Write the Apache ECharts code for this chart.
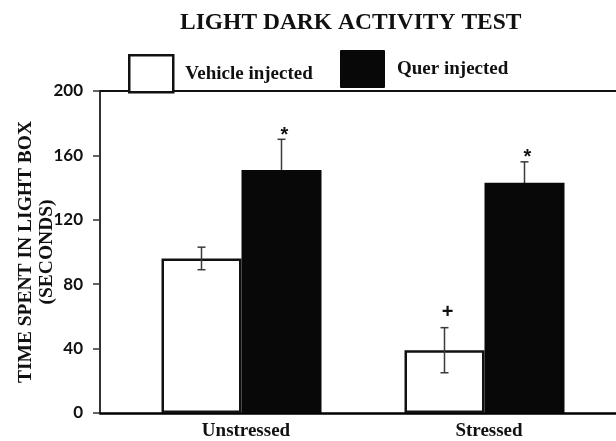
<!DOCTYPE html>
<html>
<head>
<meta charset="utf-8">
<title>Light dark activity test</title>
<script src="https://cdn.jsdelivr.net/npm/echarts@6/dist/echarts.min.js"></script>
<style>
  html, body { margin: 0; padding: 0; background: #fff; }
  #chart { width: 616px; height: 441px; }
</style>
</head>
<body>
<div id="chart"></div>
<script>
  var categories = ['Unstressed', 'Stressed'];
  var vehicleMeans = [96, 39];
  var vehicleErrors = [7, 14];
  var vehicleMarks = ['', '+'];
  var querMeans = [151, 143];
  var querErrors = [19, 13];
  var querMarks = ['*', '*'];

  var SERIF = '"Liberation Serif", "Times New Roman", serif';
  var BAR_W = 80;

  // error bar + significance mark, drawn on top of each bar
  function errorBars(means, errors, marks, shift, z) {
    return {
      type: 'custom',
      xAxisIndex: 0,
      yAxisIndex: 0,
      z: z,
      silent: true,
      data: means.map(function (m, i) { return [i, m, errors[i]]; }),
      renderItem: function (params, api) {
        var i = api.value(0), m = api.value(1), e = api.value(2);
        var hi = api.coord([i, m + e]);
        var lo = api.coord([i, m - e]);
        var x = hi[0] + shift;
        var cap = 4;
        var style = { stroke: '#3a3a3a', lineWidth: 1.5 };
        var children = [
          { type: 'line', shape: { x1: x, y1: hi[1], x2: x, y2: lo[1] }, style: style },
          { type: 'line', shape: { x1: x - cap, y1: hi[1], x2: x + cap, y2: hi[1] }, style: style },
          { type: 'line', shape: { x1: x - cap, y1: lo[1], x2: x + cap, y2: lo[1] }, style: style }
        ];
        var mark = marks[params.dataIndex];
        if (mark) {
          children.push({
            type: 'text',
            x: x + 3,
            y: hi[1] - (mark === '*' ? 4 : 15),
            style: {
              text: mark, fill: '#111',
              font: 'bold 20px "Liberation Sans", Arial, sans-serif',
              align: 'center', verticalAlign: 'middle'
            }
          });
        }
        return { type: 'group', children: children };
      }
    };
  }

  var legendText = {
    fontFamily: SERIF, fontWeight: 'bold', fontSize: 19, color: '#111',
    padding: [0, 0, 0, 7]
  };

  var option = {
    backgroundColor: '#fff',
    animation: false,
    title: {
      text: 'LIGHT DARK ACTIVITY TEST',
      left: 175,
      top: 6,
      textStyle: { fontFamily: SERIF, fontWeight: 'bold', fontSize: 23.5, color: '#111' }
    },
    legend: [{
      data: ['Vehicle injected'],
      left: 128, top: 54, padding: 0,
      itemWidth: 44, itemHeight: 37,
      icon: 'rect',
      selectedMode: false,
      itemStyle: { color: '#fff', borderColor: '#111', borderWidth: 2.5 },
      textStyle: legendText
    }, {
      data: ['Quer injected'],
      left: 340, top: 50, padding: 0,
      itemWidth: 45, itemHeight: 38,
      icon: 'path://M1,0 L44,0 Q45,0 45,1 L45,37 Q45,38 44,38 L1,38 Q0,38 0,37 L0,1 Q0,0 1,0 Z',
      selectedMode: false,
      itemStyle: { color: '#080808', borderWidth: 0 },
      textStyle: legendText
    }],
    grid: [
      { left: 120, right: 10, top: 91, bottom: 28, outerBoundsMode: 'none' },
      { left: 100, right: 0, top: 91, bottom: 28, outerBoundsMode: 'none' }
    ],
    xAxis: [{
      type: 'category',
      gridIndex: 0,
      data: categories,
      axisLine: { show: false },
      axisTick: { show: false },
      axisLabel: {
        margin: 9,
        padding: [0, 0, 0, 9],
        fontFamily: SERIF, fontWeight: 'bold', fontSize: 19, color: '#111'
      }
    }, {
      type: 'value',
      gridIndex: 1,
      min: 0, max: 1,
      axisLine: { show: true, lineStyle: { color: '#000', width: 2.5 } },
      axisTick: { show: false },
      axisLabel: { show: false },
      splitLine: { show: false }
    }, {
      type: 'value',
      gridIndex: 1,
      position: 'top',
      min: 0, max: 1,
      axisLine: { show: true, lineStyle: { color: '#111', width: 2 } },
      axisTick: { show: false },
      axisLabel: { show: false },
      splitLine: { show: false }
    }],
    yAxis: [{
      type: 'value',
      gridIndex: 0,
      min: 0, max: 200,
      show: false
    }, {
      type: 'value',
      gridIndex: 1,
      min: 0, max: 200, interval: 40,
      name: 'TIME SPENT IN LIGHT BOX\n(SECONDS)',
      nameLocation: 'middle',
      nameGap: 43,
      nameMoveOverlap: false,
      nameTextStyle: {
        fontFamily: SERIF, fontWeight: 'bold', fontSize: 19.5, color: '#111',
        lineHeight: 21
      },
      axisLine: { show: true, lineStyle: { color: '#333', width: 2 } },
      axisTick: { show: true, length: 7, lineStyle: { color: '#333', width: 1.5 } },
      axisLabel: {
        margin: 17,
        fontFamily: 'Lato, "Open Sans", sans-serif', fontWeight: 'bold', fontSize: 17, color: '#111'
      },
      splitLine: { show: false }
    }],
    series: [{
      name: 'Vehicle injected',
      type: 'bar',
      xAxisIndex: 0, yAxisIndex: 0,
      data: vehicleMeans,
      barWidth: BAR_W,
      barGap: '0%',
      z: 2,
      itemStyle: { color: '#fff', borderColor: '#111', borderWidth: 2.5 }
    }, {
      name: 'Quer injected',
      type: 'bar',
      xAxisIndex: 0, yAxisIndex: 0,
      data: querMeans,
      barWidth: BAR_W,
      barGap: '0%',
      z: 2,
      itemStyle: { color: '#080808' }
    },
      errorBars(vehicleMeans, vehicleErrors, vehicleMarks, -BAR_W / 2, 3),
      errorBars(querMeans, querErrors, querMarks, BAR_W / 2, 1)
    ]
  };

  var myChart = echarts.init(document.getElementById('chart'));
  myChart.setOption(option);
</script>
</body>
</html>
